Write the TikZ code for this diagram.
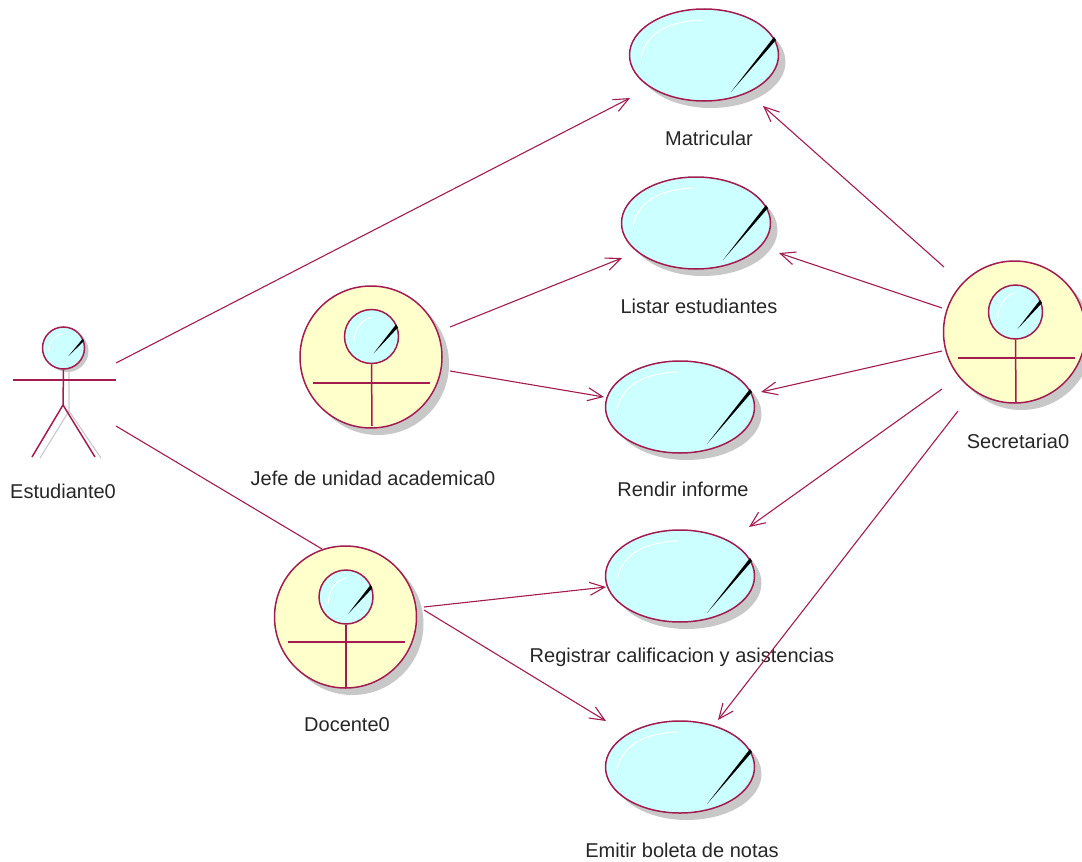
\documentclass[tikz,border=0pt]{standalone}
\usepackage{fontspec}
\setmainfont{Liberation Sans}
\usetikzlibrary{shapes.geometric,arrows.meta,calc,shadows}
\definecolor{umlline}{HTML}{A31C4F}
\definecolor{ucfill}{HTML}{CCFFFF}
\definecolor{acfill}{HTML}{FFFFCC}
\definecolor{shadowgray}{HTML}{C8C8C8}
\tikzset{
  x=1pt,y=-1pt,
  softshadow/.style={drop shadow={shadow xshift=7pt,shadow yshift=-7pt,fill=shadowgray,opacity=1}},
  usecase/.style={ellipse,draw=umlline,line width=1.5pt,fill=ucfill,minimum width=149pt,minimum height=92pt,inner sep=0pt,softshadow},
  bigactor/.style={circle,draw=umlline,line width=1.5pt,fill=acfill,minimum size=142pt,inner sep=0pt,softshadow},
  headball/.style={circle,draw=umlline,line width=1.5pt,fill=ucfill,minimum size=54pt,inner sep=0pt},
  smallhead/.style={circle,draw=umlline,line width=1.5pt,fill=ucfill,minimum size=42pt,inner sep=0pt,
     drop shadow={shadow xshift=4pt,shadow yshift=-3pt,fill=shadowgray,opacity=1}},
  limb/.style={draw=umlline,line width=1.5pt},
  ghost/.style={draw=shadowgray,line width=1.1pt},
  assoc/.style={draw=umlline,line width=1.1pt},
  navig/.style={assoc,-{Straight Barb[length=15pt,width=13pt,line width=1.1pt]}},
  caption/.style={font=\fontsize{20}{22}\selectfont,text=black!85,inner sep=0pt},
  gleam/.style={draw=white,line width=1pt},
}
\newcommand{\ucmarks}[1]{%
  \fill[black] ($(#1)+(70,-18)$) -- ($(#1)+(72,-15)$) -- ($(#1)+(27,37)$) -- cycle;
  \draw[gleam] ($(#1)+(-63,3)$) .. controls ($(#1)+(-58,-22)$) and ($(#1)+(-35,-34)$) .. ($(#1)+(-2,-35)$);
}
\newcommand{\headmarks}[1]{%
  \fill[black] ($(#1)+(24.5,-12)$) -- ($(#1)+(26.5,-9)$) -- ($(#1)+(2,17)$) -- cycle;
  \draw[gleam] ($(#1)+(-18,7)$) .. controls ($(#1)+(-17,-8)$) and ($(#1)+(-10,-17)$) .. ($(#1)+(0,-19)$);
}
\begin{document}
\begin{tikzpicture}
\useasboundingbox (0,0) rectangle (1082,862);
\clip (0,0) rectangle (1082,862);
\fill[white] (0,0) rectangle (1082,862);

% use cases
\node[usecase] (mat) at (704,55) {};
\node[usecase] (lis) at (696,223) {};
\node[usecase] (ren) at (680,407) {};
\node[usecase] (reg) at (680,576) {};
\node[usecase] (emi) at (680,767) {};
\ucmarks{mat}\ucmarks{lis}\ucmarks{ren}\ucmarks{reg}\ucmarks{emi}

% boundary-style actors
\node[bigactor] (jefe) at (371,357) {};
\node[headball] (jefeh) at (371.5,336.5) {};
\headmarks{jefeh}
\draw[limb] (jefeh.south) -- ($(jefe)+(1,69)$);
\draw[limb] ($(jefe)+(-58,26)$) -- ($(jefe)+(59,26)$);

\node[bigactor] (doc) at (345.5,617) {};
\node[headball] (doch) at (346,597) {};
\headmarks{doch}
\draw[limb] (doch.south) -- ($(doc)+(0.5,71)$);
\draw[limb] ($(doc)+(-58,25)$) -- ($(doc)+(59,25)$);

\node[bigactor] (sec) at (1014.5,332) {};
\node[headball] (sech) at (1015.5,312) {};
\headmarks{sech}
\draw[limb] (sech.south) -- ($(sec)+(1.5,71)$);
\draw[limb] ($(sec)+(-57,26)$) -- ($(sec)+(60,26)$);

% stick actor
\coordinate (hip) at (63,405);
\draw[ghost] (69,368) -- (69,411) -- (40,458);
\draw[ghost] (69,411) -- (101,458);
\node[smallhead] (est) at (63.5,348) {};
\fill[black] ($(est)+(19,-9)$) -- ($(est)+(20.5,-7)$) -- ($(est)+(5,8)$) -- cycle;
\draw[gleam] ($(est)+(-15,3)$) .. controls ($(est)+(-14,-7)$) and ($(est)+(-9,-13)$) .. ($(est)+(-1,-14)$);
\draw[limb] (est.south) -- (hip);
\draw[limb] ($(est)+(-51,32)$) -- ($(est)+(52,32)$);
\draw[limb] (hip) -- (32,457);
\draw[limb] (hip) -- (95,457);

% captions
\node[caption] (tmat) at (709,138) {Matricular};
\node[caption] (tlis) at (699,306) {Listar estudiantes};
\node[caption] (tren) at (683,489) {Rendir informe};
\node[caption] (treg) at (682,657) {Registrar calificacion y asistencias};
\node[caption] (temi) at (682,850) {Emitir boleta de notas};
\node[caption] (tjefe) at (373,478) {Jefe de unidad academica0};
\node[caption] (tdoc) at (347,725) {Docente0};
\node[caption] (tsec) at (1018,441) {Secretaria0};
\node[caption] (test) at (63,491) {Estudiante0};

% connectors
\draw[navig] ($(est)+(52.5,15)$) -- ($(mat)+(-74,43)$);
\draw[assoc] ($(est)+(52.5,78)$) -- ($(doc)+(-23.5,-68)$);
\draw[navig] ($(jefe)+(79,-30)$) -- ($(lis)+(-74,35)$);
\draw[navig] ($(jefe)+(79,14)$) -- ($(ren)+(-76,-10)$);
\draw[navig] ($(doc)+(78.5,-10)$) -- ($(reg)+(-74,11)$);
\draw[navig] ($(doc)+(78.5,-7)$) -- ($(emi)+(-74,-46)$);
\draw[navig] ($(sec)+(-70.5,-65)$) -- ($(mat)+(59,51)$);
\draw[navig] ($(sec)+(-72.5,-24)$) -- ($(lis)+(83,30)$);
\draw[navig] ($(sec)+(-72.5,19)$) -- ($(ren)+(81,-15)$);
\draw[navig] ($(sec)+(-72.5,57)$) -- ($(reg)+(69,-49)$);
\draw[navig] ($(sec)+(-56.5,79)$) -- ($(emi)+(38,-47)$);
\end{tikzpicture}
\end{document}
